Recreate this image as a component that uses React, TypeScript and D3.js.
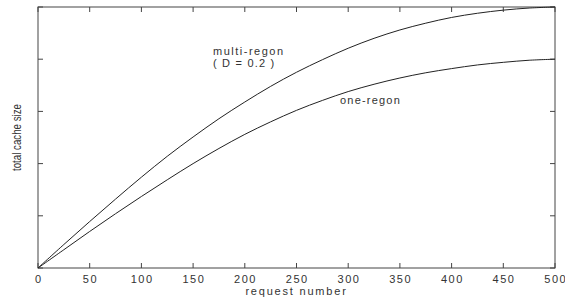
import React from "react";
import * as d3 from "d3";

const requests = [0, 25, 50, 75, 100, 125, 150, 175, 200, 225, 250, 275, 300, 325, 350, 375, 400, 425, 450, 475, 500];
const multiRegion = [0, 0.45, 0.89, 1.32, 1.74, 2.14, 2.51, 2.86, 3.18, 3.48, 3.75, 3.99, 4.21, 4.4, 4.56, 4.69, 4.8, 4.88, 4.94, 4.98, 5.0];
const oneRegion = [0, 0.35, 0.7, 1.04, 1.37, 1.69, 2.0, 2.29, 2.56, 2.8, 3.02, 3.21, 3.38, 3.52, 3.64, 3.74, 3.82, 3.89, 3.94, 3.98, 4.0];
const xTicks = [0, 50, 100, 150, 200, 250, 300, 350, 400, 450, 500];
const yTicks = [0, 1, 2, 3, 4, 5];

const W = 565, H = 298;
const L = 38, R = 555, T = 7, B = 268;

export default function App() {
  const x = d3.scaleLinear().domain([0, 500]).range([L, R]);
  const y = d3.scaleLinear().domain([0, 5]).range([B, T]);
  const line = d3.line<number>().x((_, i) => x(requests[i])).y((d) => y(d)).curve(d3.curveCatmullRom);
  const font = "'Liberation Sans', Arial, sans-serif";
  const tc = "#333";
  return (
    <svg width={W} height={H} style={{ position: "absolute", left: 0, top: 0, background: "#fff" }}>
      <rect x={0} y={0} width={W} height={H} fill="#fff" />
      <rect x={L} y={T} width={R - L} height={B - T} fill="none" stroke="#444" strokeWidth={1} />
      {xTicks.map((t) => (
        <g key={"x" + t}>
          <line x1={x(t)} x2={x(t)} y1={B} y2={B - 5} stroke="#444" />
          <line x1={x(t)} x2={x(t)} y1={T} y2={T + 5} stroke="#444" />
          <text x={x(t) + 0.75} y={283} textAnchor="middle" fontFamily={font} fontSize={11} letterSpacing={1.5} fill={tc}>{t}</text>
        </g>
      ))}
      {yTicks.map((t) => (
        <g key={"y" + t}>
          <line x1={L} x2={L + 5} y1={y(t)} y2={y(t)} stroke="#444" />
          <line x1={R} x2={R - 5} y1={y(t)} y2={y(t)} stroke="#444" />
        </g>
      ))}
      <path d={line(multiRegion) || ""} fill="none" stroke="#222" strokeWidth={1} />
      <path d={line(oneRegion) || ""} fill="none" stroke="#222" strokeWidth={1} />
      <text x={213} y={55} fontFamily={font} fontSize={11} letterSpacing={1.5} fill={tc}>multi-regon</text>
      <text x={213} y={67} fontFamily={font} fontSize={11} letterSpacing={1.2} fill={tc} xmlSpace="preserve">( D = 0.2 )</text>
      <text x={340} y={104} fontFamily={font} fontSize={11} letterSpacing={1.2} fill={tc}>one-regon</text>
      <text x={(L + R) / 2} y={295} textAnchor="middle" fontFamily={font} fontSize={11} fill={tc} letterSpacing={1.8}>request number</text>
      <text transform={`translate(21,${(T + B) / 2}) rotate(-90)`} textAnchor="middle" fontFamily={font} fontSize={12} textLength={67} lengthAdjust="spacingAndGlyphs" fill={tc}>total cache size</text>
    </svg>
  );
}
